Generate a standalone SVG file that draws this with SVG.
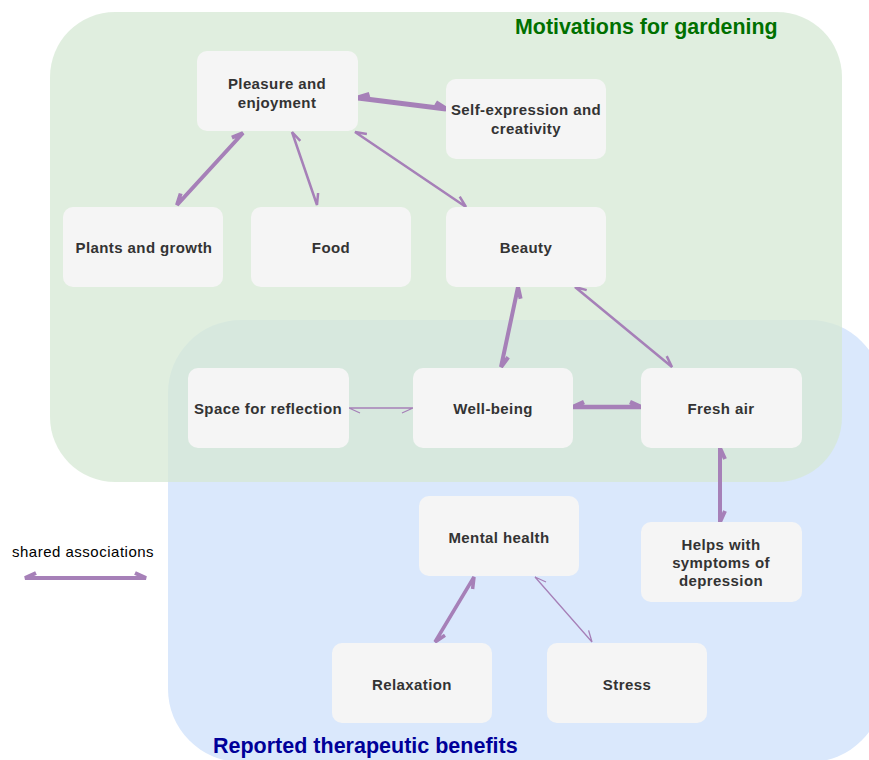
<svg xmlns="http://www.w3.org/2000/svg" width="869" height="760" viewBox="0 0 869 760">
  <style>
    .node rect { fill: #f5f5f5; }
    .node text { font-family: "Liberation Sans", Arial, Helvetica, sans-serif; font-weight: bold; font-size: 15px; letter-spacing: 0.4px; fill: #333333; text-anchor: middle; }
    .edge { fill: none; stroke: #a680b8; stroke-linejoin: miter; stroke-linecap: butt; }
    .legend-text { font-family: "Liberation Sans", Arial, Helvetica, sans-serif; font-size: 15px; letter-spacing: 0.5px; fill: #000000; }
    .region-title { font-family: "Liberation Sans", Arial, Helvetica, sans-serif; font-weight: bold; }
  </style>

  <!-- background -->
  <rect x="0" y="0" width="869" height="760" fill="#ffffff"/>

  <!-- groupings -->
  <g id="region-benefits">
    <rect x="168" y="320" width="715" height="442" rx="73" ry="73" fill="#dae8fc"/>
    <text class="region-title" x="213" y="753" font-size="21.5" fill="#000099">Reported therapeutic benefits</text>
  </g>
  <g id="region-motivations">
    <rect x="50" y="12" width="792" height="470" rx="65" ry="65" fill="#d5e8d4" fill-opacity="0.75"/>
    <text class="region-title" x="515" y="34" font-size="21.4" fill="#007000">Motivations for gardening</text>
  </g>

  <!-- connectors: line with a half barb at each end -->
  <g id="connectors">
    <path class="edge" stroke-width="5" d="M369.5,94.4 L358,98 L446,109 L435.7,102.6"/>
    <path class="edge" stroke-width="4" d="M180.7,193.5 L177,205 L243,133 L231.9,137.7"/>
    <path class="edge" stroke-width="2.5" d="M300.3,140.8 L292,132 L317,205 L318.1,193"/>
    <path class="edge" stroke-width="2.5" d="M366.9,134.1 L355,132 L466,207 L459.7,196.7"/>
    <path class="edge" stroke-width="4" d="M520.6,298.8 L518,287 L501,367 L508.2,357.2"/>
    <path class="edge" stroke-width="2.5" d="M586.7,290.1 L575,287 L672,367 L666.7,356.1"/>
    <path class="edge" stroke-width="1.3" d="M402,413 L413,408 L349,408 L360,413"/>
    <path class="edge" stroke-width="4.5" d="M584,402 L573,407 L641,407 L630,402"/>
    <path class="edge" stroke-width="4" d="M725,459 L720,448 L720,522 L725,511"/>
    <path class="edge" stroke-width="3.5" d="M472.6,589 L474,577 L435,642 L445,635.2"/>
    <path class="edge" stroke-width="1.3" d="M546,582 L535,577 L592,642 L588.6,630.4"/>
  </g>

  <!-- nodes -->
  <g id="node-pleasure" class="node">
    <rect x="197" y="51" width="161" height="80" rx="10"/>
    <text x="277" y="89">Pleasure and</text>
    <text x="277" y="108">enjoyment</text>
  </g>
  <g id="node-self-expression" class="node">
    <rect x="446" y="79" width="160" height="80" rx="10"/>
    <text x="526" y="115">Self-expression and</text>
    <text x="526" y="134">creativity</text>
  </g>
  <g id="node-plants" class="node">
    <rect x="63" y="207" width="160" height="80" rx="10"/>
    <text x="144" y="253">Plants and growth</text>
  </g>
  <g id="node-food" class="node">
    <rect x="251" y="207" width="160" height="80" rx="10"/>
    <text x="331" y="253">Food</text>
  </g>
  <g id="node-beauty" class="node">
    <rect x="446" y="207" width="160" height="80" rx="10"/>
    <text x="526" y="253">Beauty</text>
  </g>
  <g id="node-reflection" class="node">
    <rect x="188" y="368" width="161" height="80" rx="10"/>
    <text x="268" y="414">Space for reflection</text>
  </g>
  <g id="node-wellbeing" class="node">
    <rect x="413" y="368" width="160" height="80" rx="10"/>
    <text x="493" y="414">Well-being</text>
  </g>
  <g id="node-fresh-air" class="node">
    <rect x="641" y="368" width="161" height="80" rx="10"/>
    <text x="721" y="414">Fresh air</text>
  </g>
  <g id="node-mental-health" class="node">
    <rect x="419" y="496" width="160" height="80" rx="10"/>
    <text x="499" y="543">Mental health</text>
  </g>
  <g id="node-depression" class="node">
    <rect x="641" y="522" width="161" height="80" rx="10"/>
    <text x="721" y="550">Helps with</text>
    <text x="721" y="568">symptoms of</text>
    <text x="721" y="586">depression</text>
  </g>
  <g id="node-relaxation" class="node">
    <rect x="332" y="643" width="160" height="80" rx="10"/>
    <text x="412" y="690">Relaxation</text>
  </g>
  <g id="node-stress" class="node">
    <rect x="547" y="643" width="160" height="80" rx="10"/>
    <text x="627" y="690">Stress</text>
  </g>

  <!-- legend -->
  <g id="legend">
    <text class="legend-text" x="12" y="557">shared associations</text>
    <path class="edge" stroke-width="4" d="M36,573 L25,578 L146,578 L135,573"/>
  </g>
</svg>
